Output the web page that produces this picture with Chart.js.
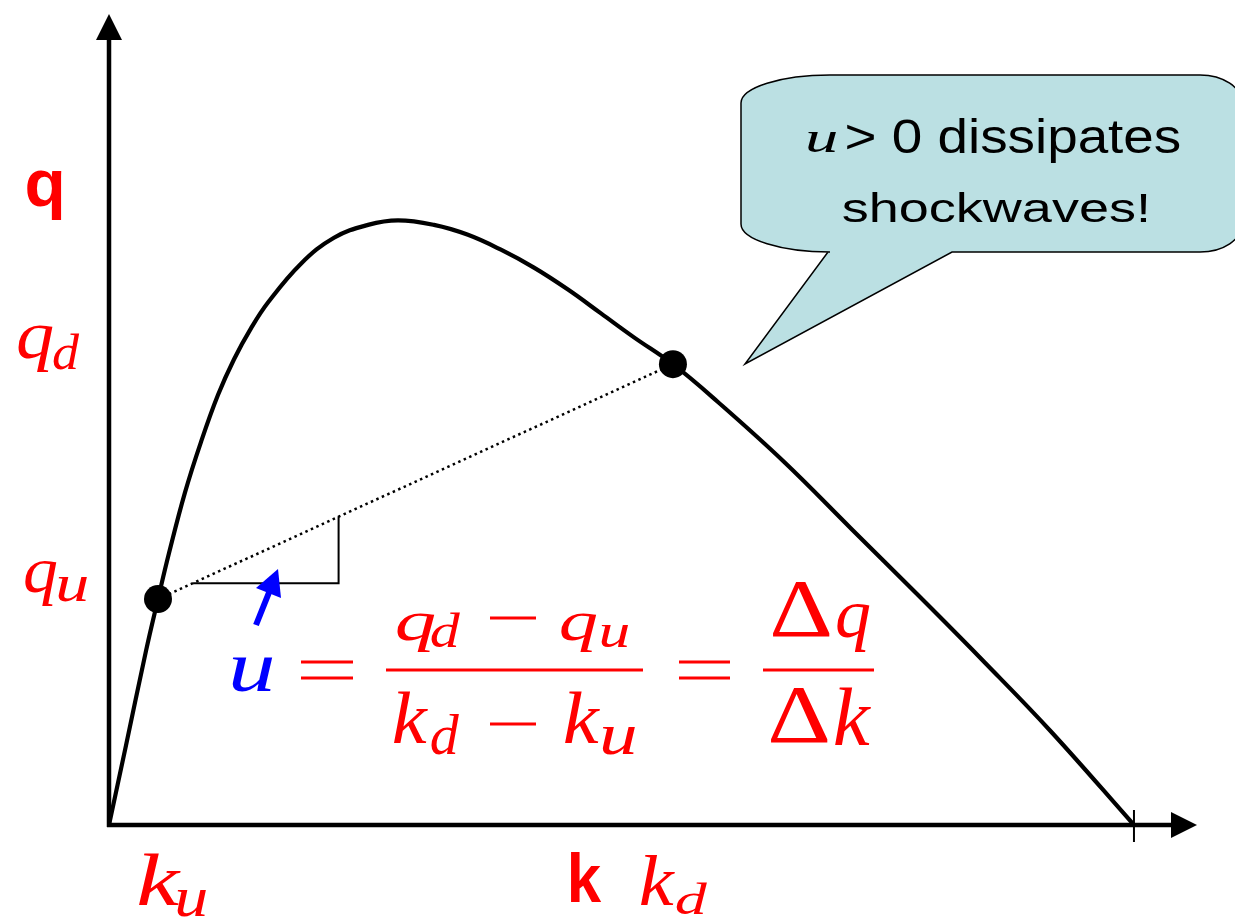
<!DOCTYPE html>
<html>
<head>
<meta charset="utf-8">
<script src="https://cdn.jsdelivr.net/npm/chart.js@4/dist/chart.umd.min.js"></script>
<style>
  html, body { margin: 0; padding: 0; background: #fff; }
  #wrap { width: 1235px; height: 919px; position: relative; }
</style>
</head>
<body>
<div id="wrap"><canvas id="fd"></canvas></div>
<script>
// fundamental diagram q(k) (k jam = 100)
const kCurve = [0, 1.66, 3.61, 4.78, 5.85, 7.41, 8.98, 10.63, 12.2, 13.85, 15.51, 18.73, 21.95, 25.27, 28.2,
  31.71, 35.02, 38.24, 41.46, 44.78, 48.0, 51.22, 55.02, 59.41, 65.85, 72.39, 78.93, 85.37, 91.9, 100];
const qCurve = [0, 9.88, 21.6, 28.02, 33.7, 41.23, 47.53, 53.33, 57.78, 61.6, 64.81, 69.63, 72.84, 74.44, 75.0,
  74.44, 73.21, 71.36, 69.14, 66.42, 63.46, 60.49, 57.16, 52.47, 45.06, 36.79, 28.52, 20.25, 11.6, 0];

// upstream (u) and downstream (d) states
const kPts = [4.78, 55.02];
const qPts = [28.02, 57.16];

// slope triangle under the chord
const triK = [8.2, 22.4, 22.4];
const triQ = [30.0, 30.0, 38.3];

const kJam = 100;
const kMax = 106.15;
const qMax = 100.6;

const zip = (xs, ys) => xs.map((x, i) => ({x: x, y: ys[i]}));

// draw text so its ink fills a box
function inkText(ctx, txt, font, color, x0, x1, top, bottom) {
  ctx.save();
  ctx.font = font;
  ctx.textAlign = 'left';
  ctx.textBaseline = 'alphabetic';
  const m = ctx.measureText(txt);
  const w = m.actualBoundingBoxLeft + m.actualBoundingBoxRight;
  const h = m.actualBoundingBoxAscent + m.actualBoundingBoxDescent;
  const sx = (x1 - x0) / w, sy = (bottom - top) / h;
  ctx.translate(x0 + m.actualBoundingBoxLeft * sx, top + m.actualBoundingBoxAscent * sy);
  ctx.scale(sx, sy);
  ctx.fillStyle = color;
  ctx.fillText(txt, 0, 0);
  ctx.restore();
}

function hline(ctx, x0, x1, y, color, w) {
  ctx.save();
  ctx.strokeStyle = color;
  ctx.lineWidth = w;
  ctx.beginPath();
  ctx.moveTo(x0, y);
  ctx.lineTo(x1, y);
  ctx.stroke();
  ctx.restore();
}

const RED = '#ff0000';
const BLUE = '#0000ff';
const SERIF = '"Liberation Serif", "Times New Roman", serif';
const MI = 'italic 72px ' + SERIF;
const MS = 'italic 50px ' + SERIF;
const MR = '80px ' + SERIF;
const SB = 'bold 56px "Liberation Sans", Arial, sans-serif';
const SN = '44px "Liberation Sans", Arial, sans-serif';

const labels = [
  ['q', SB, RED, 27, 62, 170, 220],
  ['k', SB, RED, 570, 602, 853, 902],
  ['q', MI, RED, 18, 53, 325, 372], ['d', MS, RED, 53, 80, 332, 370],
  ['q', MI, RED, 25, 57, 560, 605], ['u', MS, RED, 58, 88, 577, 602],
  ['k', MI, RED, 139, 182, 853, 905], ['u', MS, RED, 177, 207, 890, 917],
  ['k', MI, RED, 641, 676, 855, 905], ['d', MS, RED, 676, 708, 882, 915],
  ['u', MI, BLUE, 232, 273, 657, 692],
  ['q', MI, RED, 397, 435, 612, 652], ['d', MS, RED, 431, 461, 612, 648],
  ['q', MI, RED, 561, 597, 612, 652], ['u', MS, RED, 601, 629, 625, 648],
  ['k', MI, RED, 394, 429, 692, 743], ['d', MS, RED, 431, 460, 713, 755],
  ['k', MI, RED, 565, 601, 692, 743], ['u', MS, RED, 602, 636, 727, 755],
  ['\u0394', MR, RED, 773, 830, 582, 637], ['q', MI, RED, 837, 870, 603, 652],
  ['\u0394', MR, RED, 771, 828, 688, 743], ['k', MI, RED, 835, 872, 687, 745]
];

const sketch = {
  id: 'sketch',
  beforeDatasetsDraw(chart) {
    const ctx = chart.ctx;
    const xs = chart.scales.x, ys = chart.scales.y;
    const x0 = xs.getPixelForValue(0), y0 = ys.getPixelForValue(0);
    const xr = xs.getPixelForValue(kMax), yt = ys.getPixelForValue(qMax);
    ctx.save();
    ctx.strokeStyle = '#000';
    ctx.fillStyle = '#000';
    ctx.lineWidth = 4.5;
    ctx.beginPath();
    ctx.moveTo(x0, y0 + 2);
    ctx.lineTo(x0, yt + 24);
    ctx.moveTo(x0 - 2, y0);
    ctx.lineTo(xr - 24, y0);
    ctx.stroke();
    // arrow heads
    ctx.beginPath();
    ctx.moveTo(x0, yt);
    ctx.lineTo(x0 - 13, yt + 26);
    ctx.lineTo(x0 + 13, yt + 26);
    ctx.closePath();
    ctx.fill();
    ctx.beginPath();
    ctx.moveTo(xr, y0);
    ctx.lineTo(xr - 26, y0 - 13);
    ctx.lineTo(xr - 26, y0 + 13);
    ctx.closePath();
    ctx.fill();
    // jam density tick
    const xj = xs.getPixelForValue(kJam);
    ctx.lineWidth = 2;
    ctx.beginPath();
    ctx.moveTo(xj, y0 - 15);
    ctx.lineTo(xj, y0 + 17);
    ctx.stroke();
    ctx.restore();
  },
  afterDatasetsDraw(chart) {
    const ctx = chart.ctx;

    // speech bubble
    ctx.save();
    ctx.beginPath();
    ctx.moveTo(830, 75);
    ctx.lineTo(1200, 75);
    ctx.ellipse(1200, 103, 42, 28, 0, -Math.PI / 2, 0, false);
    ctx.lineTo(1242, 224);
    ctx.ellipse(1200, 224, 42, 28, 0, 0, Math.PI / 2, false);
    ctx.lineTo(952, 252);
    ctx.lineTo(745, 364);
    ctx.lineTo(828, 252);
    ctx.ellipse(830, 224, 89, 28, 0, Math.PI / 2, Math.PI, false);
    ctx.lineTo(741, 103);
    ctx.ellipse(830, 103, 89, 28, 0, Math.PI, Math.PI * 1.5, false);
    ctx.closePath();
    ctx.fillStyle = '#bbe0e3';
    ctx.fill();
    ctx.strokeStyle = '#000';
    ctx.lineWidth = 1.5;
    ctx.stroke();
    ctx.restore();
    inkText(ctx, 'u', 'italic 46px ' + SERIF, '#000', 808, 837, 132, 152);
    inkText(ctx, '> 0 dissipates', SN, '#000', 847, 1180, 119, 163);
    inkText(ctx, 'shockwaves!', SN, '#000', 843, 1147, 192, 222);

    // labels and the formula
    labels.forEach(l => inkText(ctx, l[0], l[1], l[2], l[3], l[4], l[5], l[6]));
    hline(ctx, 301, 353, 662, RED, 3.2);
    hline(ctx, 301, 353, 678, RED, 3.2);
    hline(ctx, 679, 730, 662, RED, 3.2);
    hline(ctx, 679, 730, 678, RED, 3.2);
    hline(ctx, 386, 643, 670, RED, 3.2);
    hline(ctx, 763, 874, 670, RED, 3.2);
    hline(ctx, 490, 536, 618, RED, 3);
    hline(ctx, 490, 536, 724, RED, 3);

    // blue pointer to the slope
    ctx.save();
    ctx.strokeStyle = BLUE;
    ctx.fillStyle = BLUE;
    ctx.lineWidth = 6;
    ctx.beginPath();
    ctx.moveTo(256, 625);
    ctx.lineTo(270, 590);
    ctx.stroke();
    ctx.beginPath();
    ctx.moveTo(278, 569);
    ctx.lineTo(256, 588);
    ctx.lineTo(281, 598);
    ctx.closePath();
    ctx.fill();
    ctx.restore();
  }
};

const ctx = document.getElementById('fd');
new Chart(ctx, {
  type: 'scatter',
  data: {
    datasets: [
      {
        label: 'q(k)',
        data: zip(kCurve, qCurve),
        showLine: true,
        borderColor: '#000',
        borderWidth: 4.2,
        pointRadius: 0,
        tension: 0.4
      },
      {
        label: 'chord',
        data: zip(kPts, qPts),
        showLine: true,
        borderColor: '#000',
        borderWidth: 2.5,
        borderDash: [2.5, 3.5],
        pointRadius: 0
      },
      {
        label: 'slope',
        data: zip(triK, triQ),
        showLine: true,
        borderColor: '#000',
        borderWidth: 2,
        pointRadius: 0
      },
      {
        label: 'states',
        data: zip(kPts, qPts),
        showLine: false,
        backgroundColor: '#000',
        borderColor: '#000',
        pointRadius: 14,
        pointBorderWidth: 0
      }
    ]
  },
  options: {
    responsive: true,
    maintainAspectRatio: false,
    devicePixelRatio: 1,
    animation: false,
    layout: { padding: { left: 109, right: 38, top: 10, bottom: 94 } },
    scales: {
      x: { type: 'linear', min: 0, max: kMax, display: false },
      y: { type: 'linear', min: 0, max: qMax, display: false }
    },
    plugins: {
      legend: { display: false },
      tooltip: { enabled: false }
    }
  },
  plugins: [sketch]
});
</script>
</body>
</html>
